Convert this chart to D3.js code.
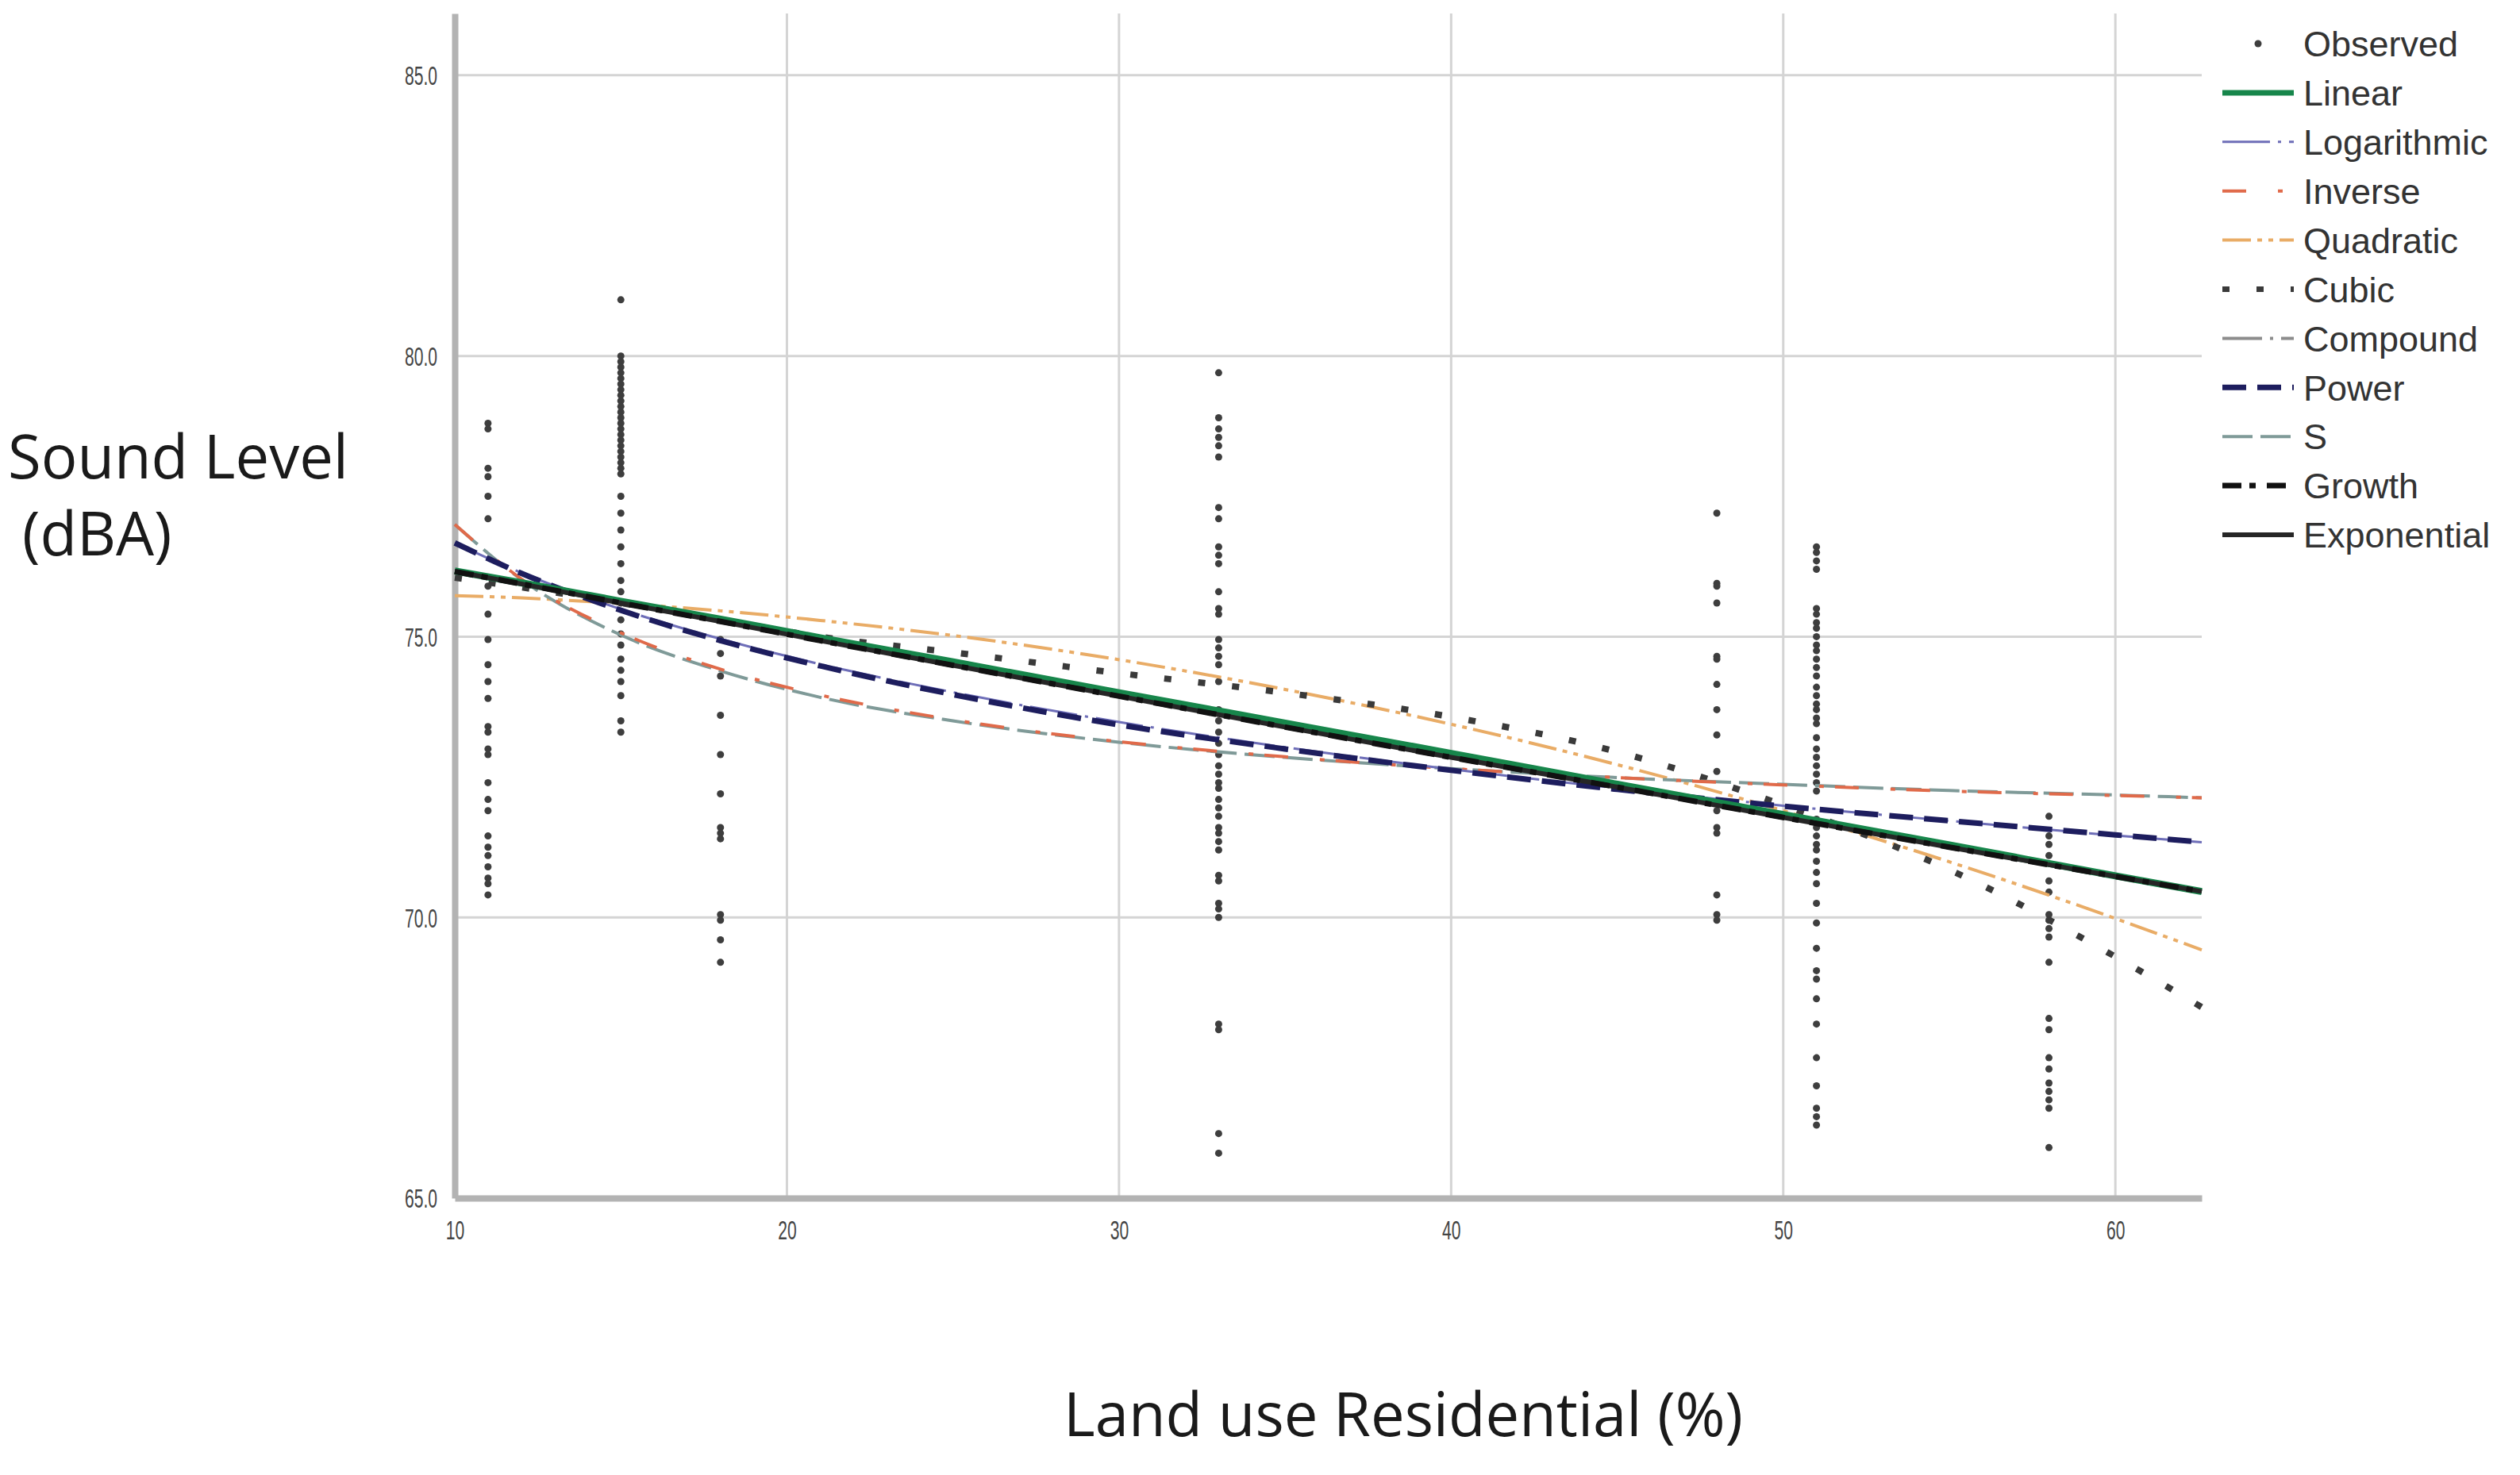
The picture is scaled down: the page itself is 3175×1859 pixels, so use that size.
<!DOCTYPE html>
<html>
<head>
<meta charset="utf-8">
<script src="https://cdn.jsdelivr.net/npm/d3@7"></script>
<style>
  html, body { margin: 0; padding: 0; background: #ffffff; }
  svg { display: block; }
</style>
</head>
<body>
<svg id="chart" width="3175" height="1859"></svg>
<script>
// ---------------- DATA ----------------
const xTicks = [10, 20, 30, 40, 50, 60];
const yTicks = [65, 70, 75, 80, 85];

const obsX = [11, 15, 18, 33, 48, 51, 58];
const obs11 = [78.8, 78.7, 78.0, 77.85, 77.5, 77.1, 75.9, 75.4, 74.95, 74.5, 74.2, 73.9, 73.4, 73.3, 73.0, 72.9, 72.4, 72.1, 71.9, 71.45, 71.25, 71.1, 70.9, 70.7, 70.6, 70.4];
const obs15 = [81.0, 80.0, 79.9, 79.8, 79.7, 79.6, 79.5, 79.4, 79.3, 79.2, 79.1, 79.0, 78.9, 78.8, 78.7, 78.6, 78.5, 78.4, 78.3, 78.2, 78.1, 78.0, 77.9, 77.5, 77.2, 76.9, 76.6, 76.3, 76.0, 75.8, 75.6, 75.3, 75.05, 74.85, 74.6, 74.4, 74.2, 73.95, 73.5, 73.3];
const obs18 = [74.95, 74.7, 74.3, 73.6, 72.9, 72.2, 71.6, 71.5, 71.4, 70.05, 69.95, 69.6, 69.2];
const obs33 = [79.7, 78.9, 78.7, 78.55, 78.4, 78.2, 77.3, 77.1, 76.6, 76.45, 76.3, 75.8, 75.5, 75.4, 74.95, 74.8, 74.65, 74.5, 74.2, 73.7, 73.5, 73.3, 73.1, 72.9, 72.7, 72.55, 72.4, 72.3, 72.1, 71.95, 71.8, 71.6, 71.5, 71.35, 71.2, 70.75, 70.65, 70.25, 70.15, 70.0, 68.1, 68.0, 66.15, 65.8];
const obs48 = [77.2, 75.95, 75.9, 75.6, 74.65, 74.6, 74.15, 73.7, 73.25, 72.6, 71.9, 71.6, 71.5, 70.4, 70.05, 69.95];
const obs51 = [76.6, 76.5, 76.35, 76.2, 75.5, 75.4, 75.25, 75.15, 75.0, 74.85, 74.75, 74.6, 74.45, 74.3, 74.1, 73.95, 73.8, 73.7, 73.55, 73.45, 73.2, 73.0, 72.85, 72.7, 72.55, 72.4, 72.25, 71.75, 71.6, 71.45, 71.3, 71.2, 71.0, 70.8, 70.6, 70.25, 69.9, 69.45, 69.05, 68.9, 68.55, 68.1, 67.5, 67.0, 66.6, 66.45, 66.3];
const obs58 = [71.8, 71.45, 71.3, 71.1, 70.65, 70.45, 70.05, 69.95, 69.8, 69.65, 69.2, 68.2, 68.0, 67.5, 67.3, 67.05, 66.9, 66.75, 66.6, 65.9];
const obsY = [obs11, obs15, obs18, obs33, obs48, obs51, obs58];

// fitted curves, values read at these x positions
const fitX        = [10,    12,    15,    18,    21,    25,    30,    35,    40,    45,    50,    55,    60,    62.6];
const linearY     = [76.17, 75.96, 75.63, 75.31, 74.98, 74.55, 74.00, 73.46, 72.92, 72.37, 71.83, 71.29, 70.74, 70.46];
const logY        = [76.67, 76.14, 75.49, 74.96, 74.51, 74.01, 73.48, 73.03, 72.64, 72.30, 71.99, 71.72, 71.46, 71.34];
const inverseY    = [77.00, 76.03, 75.07, 74.42, 73.96, 73.52, 73.13, 72.86, 72.65, 72.49, 72.36, 72.25, 72.17, 72.13];
const quadraticY  = [75.73, 75.69, 75.59, 75.46, 75.29, 75.02, 74.59, 74.06, 73.44, 72.72, 71.90, 70.99, 69.98, 69.42];
const cubicY      = [76.05, 75.88, 75.60, 75.30, 75.00, 74.72, 74.35, 74.00, 73.57, 72.95, 72.00, 70.85, 69.30, 68.40];
const compoundY   = [76.16, 75.94, 75.60, 75.27, 74.93, 74.49, 73.94, 73.39, 72.85, 72.32, 71.78, 71.25, 70.73, 70.46];
const powerY      = [76.67, 76.13, 75.47, 74.93, 74.48, 73.97, 73.43, 73.00, 72.62, 72.28, 71.98, 71.72, 71.47, 71.34];
const sY          = [77.00, 76.02, 75.03, 74.39, 73.92, 73.50, 73.12, 72.85, 72.65, 72.49, 72.37, 72.26, 72.18, 72.13];
const growthY     = [76.16, 75.94, 75.60, 75.27, 74.93, 74.49, 73.94, 73.39, 72.85, 72.32, 71.78, 71.25, 70.73, 70.46];
const exponentialY= [76.16, 75.94, 75.60, 75.27, 74.93, 74.49, 73.94, 73.39, 72.85, 72.32, 71.78, 71.25, 70.73, 70.46];

const legendLabels = ["Observed", "Linear", "Logarithmic", "Inverse", "Quadratic", "Cubic", "Compound", "Power", "S", "Growth", "Exponential"];

// ---------------- STYLES ----------------
const styles = {
  Linear:      {color: "#17864b", width: 9, dash: null},
  Logarithmic: {color: "#6e6eb8", width: 3, dash: "60,10,4,10"},
  Inverse:     {color: "#e06a4a", width: 4, dash: "30,40,6,14"},
  Quadratic:   {color: "#e9ac66", width: 4, dash: "36,8,6,8,6,8"},
  Cubic:       {color: "#3a3a3a", width: 8, dash: "9,34"},
  Compound:    {color: "#8c8c8c", width: 4, dash: "50,10,4,10"},
  Power:       {color: "#1d1d5e", width: 7, dash: "30,14"},
  S:           {color: "#7f9a98", width: 4, dash: "38,10"},
  Growth:      {color: "#111111", width: 7, dash: "24,10,8,14"},
  Exponential: {color: "#262626", width: 6, dash: null}
};
const curveData = {
  Linear: linearY, Logarithmic: logY, Inverse: inverseY, Quadratic: quadraticY,
  Cubic: cubicY, Compound: compoundY, Power: powerY, S: sY, Growth: growthY, Exponential: exponentialY
};
const drawOrder = ["Quadratic", "Cubic", "Compound", "S", "Inverse", "Logarithmic", "Power", "Linear", "Exponential", "Growth"];

// ---------------- CHART ----------------
const svg = d3.select("#chart");
svg.append("rect").attr("width", 3175).attr("height", 1859).attr("fill", "#ffffff");

const x = d3.scaleLinear().domain([10, 62.6]).range([573, 2774]);
const y = d3.scaleLinear().domain([65, 86.1]).range([1510, 17]);

// gridlines
const grid = svg.append("g");
grid.selectAll("line.h").data(yTicks.filter(d => d > 65)).join("line")
  .attr("x1", x(10)).attr("x2", x(62.6))
  .attr("y1", d => y(d)).attr("y2", d => y(d))
  .attr("stroke", "#d4d4d4").attr("stroke-width", 3);
grid.selectAll("line.v").data(xTicks.filter(d => d > 10)).join("line")
  .attr("x1", d => x(d)).attr("x2", d => x(d))
  .attr("y1", y(86.1)).attr("y2", y(65))
  .attr("stroke", "#d4d4d4").attr("stroke-width", 3);

// axes
const yAxis = d3.axisLeft(y).tickValues(yTicks).tickSize(0).tickPadding(22).tickFormat(d3.format(".1f"));
const xAxis = d3.axisBottom(x).tickValues(xTicks).tickSize(0).tickPadding(28).tickFormat(d3.format("d"));

const gy = svg.append("g").attr("transform", `translate(${x(10)},0)`).call(yAxis);
const gx = svg.append("g").attr("transform", `translate(0,${y(65)})`).call(xAxis);
[gx, gy].forEach(g => {
  g.select(".domain").attr("stroke", "#b3b3b3").attr("stroke-width", 8);
  g.selectAll("text")
    .attr("font-family", "'Liberation Sans', Arial, sans-serif")
    .attr("font-size", 34)
    .attr("fill", "#454545");
});
gy.selectAll("text").attr("dy", "0.35em");
// condense tick labels like the reference
[gx, gy].forEach(g => g.selectAll("text").each(function() {
  const w = this.getComputedTextLength();
  d3.select(this).attr("textLength", w * 0.62).attr("lengthAdjust", "spacingAndGlyphs");
}));

// observed points
const pts = [];
obsX.forEach((xv, i) => obsY[i].forEach(v => pts.push([xv, v])));
svg.append("g").selectAll("circle").data(pts).join("circle")
  .attr("cx", d => x(d[0])).attr("cy", d => y(d[1]))
  .attr("r", 4.5).attr("fill", "#3e3e3e");

// fitted curves
const line = d3.line().x(d => x(d[0])).y(d => y(d[1])).curve(d3.curveMonotoneX);
const curves = svg.append("g").attr("fill", "none");
drawOrder.forEach(name => {
  const st = styles[name];
  const pathData = fitX.map((xv, i) => [xv, curveData[name][i]]);
  curves.append("path")
    .attr("d", line(pathData))
    .attr("stroke", st.color)
    .attr("stroke-width", st.width)
    .attr("stroke-dasharray", st.dash)
    .attr("fill", "none");
});

// legend
const legend = svg.append("g");
const legY0 = 55, legStep = 61.9;
legendLabels.forEach((name, i) => {
  const cy = legY0 + i * legStep;
  if (name === "Observed") {
    legend.append("circle").attr("cx", 2845).attr("cy", cy).attr("r", 4.5).attr("fill", "#3e3e3e");
  } else {
    const st = styles[name];
    legend.append("line")
      .attr("x1", 2800).attr("x2", 2890).attr("y1", cy).attr("y2", cy)
      .attr("stroke", st.color)
      .attr("stroke-width", Math.min(st.width, 7))
      .attr("stroke-dasharray", st.dash);
  }
  legend.append("text")
    .attr("x", 2902).attr("y", cy).attr("dy", "0.36em")
    .attr("font-family", "'Liberation Sans', Arial, sans-serif")
    .attr("font-size", 45)
    .attr("fill", "#333333")
    .text(name);
});

// axis titles
svg.append("text")
  .attr("x", 10).attr("y", 603)
  .attr("font-family", "'Open Sans', sans-serif").attr("font-size", 76)
  .attr("fill", "#1a1a1a")
  .text("Sound Level");
svg.append("text")
  .attr("x", 28).attr("y", 700)
  .attr("font-family", "'Open Sans', sans-serif").attr("font-size", 76)
  .attr("fill", "#1a1a1a")
  .text("(dBA)");
svg.append("text")
  .attr("x", 1768).attr("y", 1810)
  .attr("text-anchor", "middle")
  .attr("font-family", "'Open Sans', sans-serif").attr("font-size", 76)
  .attr("fill", "#1a1a1a")
  .text("Land use Residential (%)");
</script>
</body>
</html>
